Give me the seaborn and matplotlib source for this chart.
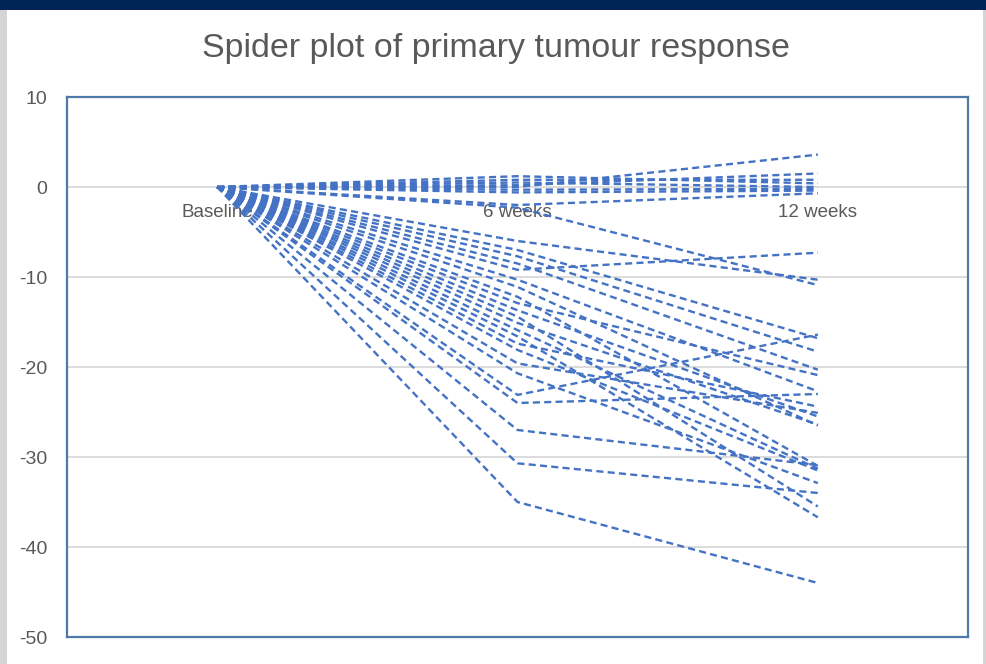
import matplotlib
matplotlib.use("Agg")
import matplotlib.pyplot as plt
import matplotlib.patches as mpatches
import seaborn as sns
import pandas as pd
import numpy as np

timepoints = ["Baseline", "6 weeks", "12 weeks"]
week6 = [1.2, 0.8, 0.5, 0.2, 0.0, -0.3, -0.6, -2.0, -2.3,
         -6.0, -7.0, -7.7, -8.5, -9.2, -10.3, -11.1, -12.2, -12.9, -13.7,
         -14.4, -15.1, -15.9, -16.6, -17.4, -18.1, -19.6, -20.7, -23.1,
         -24.0, -27.0, -30.7, -35.0]
week12 = [0.4, 0.8, 0.0, 1.5, 3.6, -0.2, -0.4, -0.7, -10.9,
          -10.3, -16.8, -18.3, -20.3, -7.3, -22.7, -26.5, -31.0, -20.9, -25.5,
          -35.5, -26.4, -31.3, -36.7, -24.4, -31.5, -25.1, -32.9, -16.4,
          -23.0, -30.9, -34.0, -44.0]
baseline = [0.0] * len(week6)
y_ticks = [10, 0, -10, -20, -30, -40, -50]
title = "Spider plot of primary tumour response"

rows = []
for pid, (b, w6, w12) in enumerate(zip(baseline, week6, week12)):
    for pos, v in enumerate([b, w6, w12]):
        rows.append({"patient": pid, "pos": pos, "change": v})
df = pd.DataFrame(rows)

sns.set_theme(style="white")
plt.rcParams["font.family"] = ["Liberation Sans", "DejaVu Sans"]

fig = plt.figure(figsize=(9.87, 6.64), dpi=100)
fig.patch.set_facecolor("white")
# frame decorations
fig.patches.append(mpatches.Rectangle((0, 1 - 10 / 664), 1, 10 / 664, transform=fig.transFigure,
                                      facecolor="#002455", edgecolor="none", zorder=0))
fig.patches.append(mpatches.Rectangle((0, 0), 7 / 987, 1 - 10 / 664, transform=fig.transFigure,
                                      facecolor="#d4d4d4", edgecolor="none", zorder=0))
fig.patches.append(mpatches.Rectangle((1 - 4 / 987, 0), 4 / 987, 1 - 10 / 664, transform=fig.transFigure,
                                      facecolor="#d4d4d4", edgecolor="none", zorder=0))

ax = fig.add_axes([67 / 987, 27 / 664, (968 - 67) / 987, (637 - 97) / 664])
ax.set_facecolor("white")

sns.lineplot(data=df, x="pos", y="change", units="patient", estimator=None,
             color="#4472C4", linewidth=1.7, linestyle=(0, (3, 1.8)), ax=ax,
             legend=False, zorder=3)

ax.set_xlim(-0.5, 2.5)
ax.set_ylim(-50, 10)
ax.set_yticks(y_ticks)
ax.set_yticklabels([str(t) for t in y_ticks], color="#595959", fontsize=14)
ax.tick_params(axis="y", length=0, pad=14)
for t in y_ticks[1:-1]:
    ax.axhline(t, color="#d9d9d9", linewidth=1.3, zorder=1)
ax.set_xticks([])
ax.set_xlabel("")
ax.set_ylabel("")
for sp in ax.spines.values():
    sp.set_color("#4d7aa8")
    sp.set_linewidth(1.6)
    sp.set_visible(True)

# category axis crossing at y = 0
sec = ax.secondary_xaxis(50 / 60)
sec.set_xticks(range(len(timepoints)))
sec.set_xticklabels(timepoints, color="#595959", fontsize=13.5)
sec.xaxis.set_ticks_position("bottom")
sec.xaxis.set_label_position("bottom")
sec.tick_params(axis="x", length=0, pad=12, labelbottom=True, labeltop=False,
                bottom=False, top=False)
for sp in sec.spines.values():
    sp.set_visible(False)

fig.text(0.503, 1 - 48 / 664, title, ha="center", va="center", fontsize=24.5, color="#595959")

fig.savefig("out.png", dpi=100, facecolor=fig.get_facecolor())
